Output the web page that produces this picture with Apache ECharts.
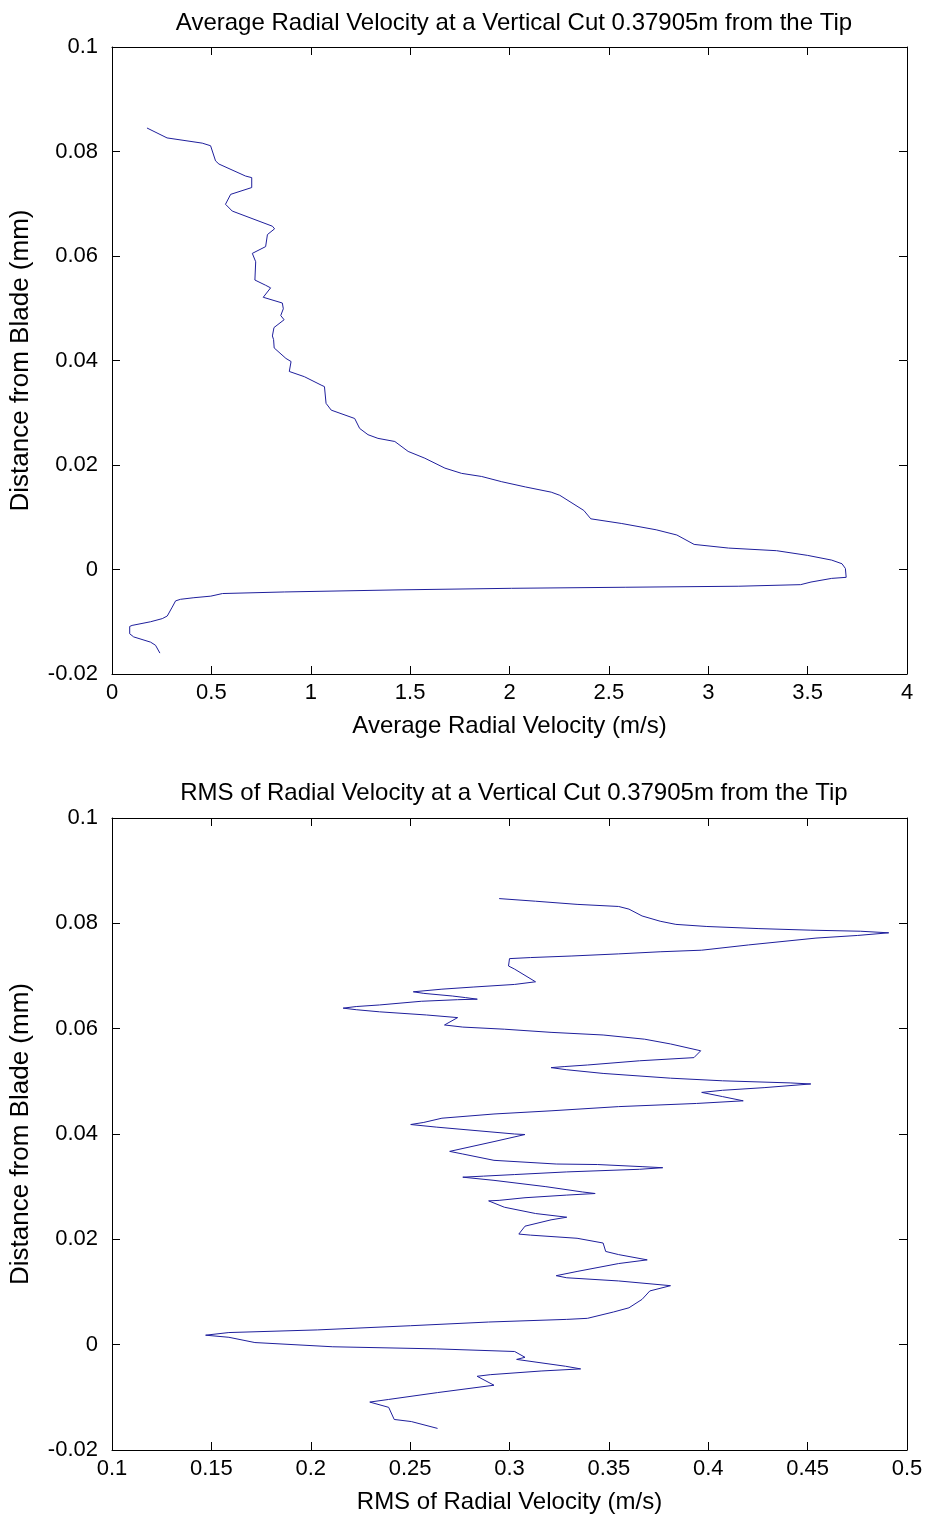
<!DOCTYPE html>
<html>
<head>
<meta charset="utf-8">
<script src="https://cdn.jsdelivr.net/npm/echarts@6/dist/echarts.min.js"></script>
<style>
  html, body { margin: 0; padding: 0; background: #fff; }
  #chart { width: 942px; height: 1519px; }
</style>
</head>
<body>
<div id="chart"></div>
<script>
// top plot: average radial velocity (m/s) vs distance from blade
const avgVel = [0.176, 0.277, 0.454, 0.496, 0.521, 0.538, 0.672, 0.703, 0.703, 0.597,
  0.571, 0.605, 0.807, 0.818, 0.782, 0.773, 0.706, 0.723, 0.719, 0.773,
  0.798, 0.761, 0.857, 0.862, 0.849, 0.866, 0.815, 0.807, 0.813, 0.816,
  0.875, 0.901, 0.892, 0.968, 1.052, 1.069, 1.077, 1.103, 1.221, 1.246,
  1.288, 1.338, 1.423, 1.490, 1.574, 1.675, 1.759, 1.860, 1.961, 2.080,
  2.210, 2.253, 2.374, 2.409, 2.565, 2.738, 2.842, 2.929, 3.102, 3.344,
  3.500, 3.621, 3.673, 3.690, 3.694, 3.621, 3.517, 3.465, 3.154, 2.582,
  2.011, 1.439, 0.867, 0.556, 0.497, 0.412, 0.345, 0.320, 0.303, 0.278,
  0.253, 0.194, 0.101, 0.089, 0.089, 0.109, 0.194, 0.219, 0.241]
const avgDist = [0.0845, 0.0826, 0.0816, 0.0811, 0.0782, 0.0776, 0.0753, 0.0750, 0.0731, 0.0718,
  0.0699, 0.0686, 0.0657, 0.0652, 0.0641, 0.0618, 0.0605, 0.0589, 0.0554, 0.0544,
  0.0539, 0.0521, 0.0510, 0.0499, 0.0486, 0.0478, 0.0463, 0.0447, 0.0440, 0.0424,
  0.0404, 0.0398, 0.0379, 0.0369, 0.0353, 0.0350, 0.0318, 0.0305, 0.0289, 0.0270,
  0.0258, 0.0251, 0.0245, 0.0226, 0.0213, 0.0194, 0.0184, 0.0178, 0.0168, 0.0158,
  0.0148, 0.0142, 0.0113, 0.0097, 0.0088, 0.0076, 0.0066, 0.0048, 0.0041, 0.0036,
  0.0027, 0.0018, 0.0011, 0.0002, -0.0015, -0.0017, -0.0024, -0.0029, -0.0032, -0.0034,
  -0.0036, -0.0039, -0.0043, -0.0046, -0.0051, -0.0054, -0.0057, -0.0060, -0.0072, -0.0089,
  -0.0094, -0.0100, -0.0107, -0.0109, -0.0123, -0.0129, -0.0139, -0.0145, -0.0160]

// bottom plot: RMS of radial velocity (m/s) vs distance from blade
const rmsVel = [0.2948, 0.3131, 0.3340, 0.3549, 0.3601, 0.3667, 0.3758, 0.3837, 0.3993, 0.4255,
  0.4516, 0.4765, 0.4908, 0.4752, 0.4542, 0.4203, 0.3967, 0.3758, 0.3549, 0.3314,
  0.3105, 0.3000, 0.2995, 0.3026, 0.3131, 0.3026, 0.2817, 0.2660, 0.2516, 0.2569,
  0.2712, 0.2778, 0.2838, 0.2739, 0.2556, 0.2346, 0.2229, 0.2163, 0.2229, 0.2346,
  0.2582, 0.2739, 0.2673, 0.2765, 0.2974, 0.3209, 0.3471, 0.3680, 0.3810, 0.3962,
  0.3928, 0.3654, 0.3392, 0.3275, 0.3209, 0.3288, 0.3471, 0.3810, 0.4072, 0.4412,
  0.4516, 0.4281, 0.4072, 0.3967, 0.4072, 0.4176, 0.3941, 0.3549, 0.3209, 0.2922,
  0.2660, 0.2569, 0.2503, 0.2634, 0.3026, 0.3078, 0.2927, 0.2699, 0.2765, 0.2922,
  0.3235, 0.3444, 0.3667, 0.3771, 0.3654, 0.3288, 0.3026, 0.2869, 0.2765, 0.2922,
  0.3183, 0.3366, 0.3431, 0.3288, 0.3078, 0.2948, 0.2895, 0.2974, 0.3131, 0.3288,
  0.3209, 0.3078, 0.3047, 0.3105, 0.3340, 0.3471, 0.3484, 0.3549, 0.3693, 0.3549,
  0.3340, 0.3235, 0.3288, 0.3549, 0.3810, 0.3706, 0.3667, 0.3601, 0.3523, 0.3392,
  0.3288, 0.2895, 0.2503, 0.2033, 0.1588, 0.1471, 0.1588, 0.1719, 0.2111, 0.2634,
  0.3026, 0.3078, 0.3036, 0.3282, 0.3358, 0.3159, 0.2903, 0.2837, 0.2922, 0.2638,
  0.2392, 0.2297, 0.2392, 0.2420, 0.2506, 0.2638]
const rmsDist = [0.0847, 0.0842, 0.0836, 0.0832, 0.0827, 0.0814, 0.0804, 0.0798, 0.0794, 0.0790,
  0.0787, 0.0785, 0.0782, 0.0777, 0.0772, 0.0759, 0.0749, 0.0746, 0.0742, 0.0738,
  0.0735, 0.0733, 0.0719, 0.0713, 0.0689, 0.0684, 0.0679, 0.0675, 0.0670, 0.0667,
  0.0662, 0.0659, 0.0656, 0.0655, 0.0652, 0.0645, 0.0642, 0.0639, 0.0636, 0.0632,
  0.0626, 0.0621, 0.0607, 0.0603, 0.0599, 0.0593, 0.0588, 0.0580, 0.0571, 0.0558,
  0.0545, 0.0539, 0.0531, 0.0528, 0.0526, 0.0522, 0.0515, 0.0506, 0.0501, 0.0497,
  0.0495, 0.0488, 0.0483, 0.0479, 0.0471, 0.0463, 0.0458, 0.0452, 0.0444, 0.0438,
  0.0430, 0.0422, 0.0418, 0.0413, 0.0400, 0.0399, 0.0386, 0.0367, 0.0362, 0.0350,
  0.0343, 0.0342, 0.0338, 0.0336, 0.0333, 0.0328, 0.0323, 0.0320, 0.0318, 0.0312,
  0.0300, 0.0290, 0.0287, 0.0284, 0.0279, 0.0274, 0.0273, 0.0261, 0.0249, 0.0242,
  0.0237, 0.0225, 0.0210, 0.0208, 0.0202, 0.0193, 0.0177, 0.0171, 0.0161, 0.0154,
  0.0139, 0.0131, 0.0127, 0.0121, 0.0112, 0.0102, 0.0086, 0.0070, 0.0062, 0.0050,
  0.0048, 0.0043, 0.0036, 0.0028, 0.0023, 0.0018, 0.0014, 0.0004, -0.0004, -0.0008,
  -0.0013, -0.0024, -0.0028, -0.0041, -0.0046, -0.0050, -0.0057, -0.0060, -0.0077, -0.0091,
  -0.0104, -0.0109, -0.0119, -0.0142, -0.0146, -0.0159]

const distTicks = { min: -0.02, max: 0.1, interval: 0.02 }

const plotDom = echarts.init(document.getElementById('chart'), null, { renderer: 'canvas' })
const FONT = "'Liberation Sans Narrow', 'Arial Narrow', 'Liberation Sans', sans-serif"
const LINE_COLOR = '#1f1f9c'

const fmt = (v) => String(parseFloat(v.toFixed(3)))

const boxAxis = (gridIndex, position, extra) => Object.assign({
  type: 'value',
  gridIndex,
  position,
  axisLine: { show: true, onZero: false, lineStyle: { color: '#000', width: 1 } },
  axisTick: { show: true, inside: true, length: 8, lineStyle: { color: '#000' } },
  axisLabel: { show: false },
  splitLine: { show: false }
}, extra)

const labelStyle = { color: '#000', fontSize: 22, fontFamily: FONT, formatter: fmt }

const xAxes = []
const yAxes = []
const xRanges = [{ min: 0, max: 4, interval: 0.5 }, { min: 0.1, max: 0.5, interval: 0.05 }]
const xNames = ['Average Radial Velocity (m/s)', 'RMS of Radial Velocity (m/s)']

for (let g = 0; g < 2; g++) {
  xAxes.push(boxAxis(g, 'bottom', Object.assign({}, xRanges[g], {
    axisLabel: Object.assign({ show: true, margin: 8 }, labelStyle),
    name: xNames[g],
    nameLocation: 'middle',
    nameGap: 40,
    nameTextStyle: { color: '#000', fontSize: 24, fontFamily: FONT }
  })))
  xAxes.push(boxAxis(g, 'top', Object.assign({}, xRanges[g])))
  yAxes.push(boxAxis(g, 'left', Object.assign({}, distTicks, {
    axisLabel: Object.assign({ show: true, margin: 14 }, labelStyle),
    name: 'Distance from Blade (mm)',
    nameLocation: 'middle',
    nameRotate: 90,
    nameGap: 78,
    nameTextStyle: { color: '#000', fontSize: 26, fontFamily: FONT }
  })))
  yAxes.push(boxAxis(g, 'right', Object.assign({}, distTicks)))
}

const toPairs = (xs, ys) => xs.map((x, i) => [x, ys[i]])

const titleStyle = { color: '#000', fontWeight: 'normal', fontSize: 24, fontFamily: FONT }

const option = {
  backgroundColor: '#fff',
  animation: false,
  title: [
    {
      text: 'Average Radial Velocity at a Vertical Cut 0.37905m from the Tip',
      left: 509, top: 6, textAlign: 'center',
      textStyle: titleStyle
    },
    {
      text: 'RMS of Radial Velocity at a Vertical Cut 0.37905m from the Tip',
      left: 509, top: 776, textAlign: 'center',
      textStyle: titleStyle
    }
  ],
  grid: [
    { left: 112, top: 47, width: 795, height: 627 },
    { left: 112, top: 818, width: 795, height: 632 }
  ],
  xAxis: xAxes,
  yAxis: yAxes,
  series: [
    {
      type: 'line',
      xAxisIndex: 0,
      yAxisIndex: 0,
      data: toPairs(avgVel, avgDist),
      showSymbol: false,
      lineStyle: { color: LINE_COLOR, width: 1 }
    },
    {
      type: 'line',
      xAxisIndex: 2,
      yAxisIndex: 2,
      data: toPairs(rmsVel, rmsDist),
      showSymbol: false,
      lineStyle: { color: LINE_COLOR, width: 1 }
    }
  ]
}

plotDom.setOption(option)
</script>
</body>
</html>
